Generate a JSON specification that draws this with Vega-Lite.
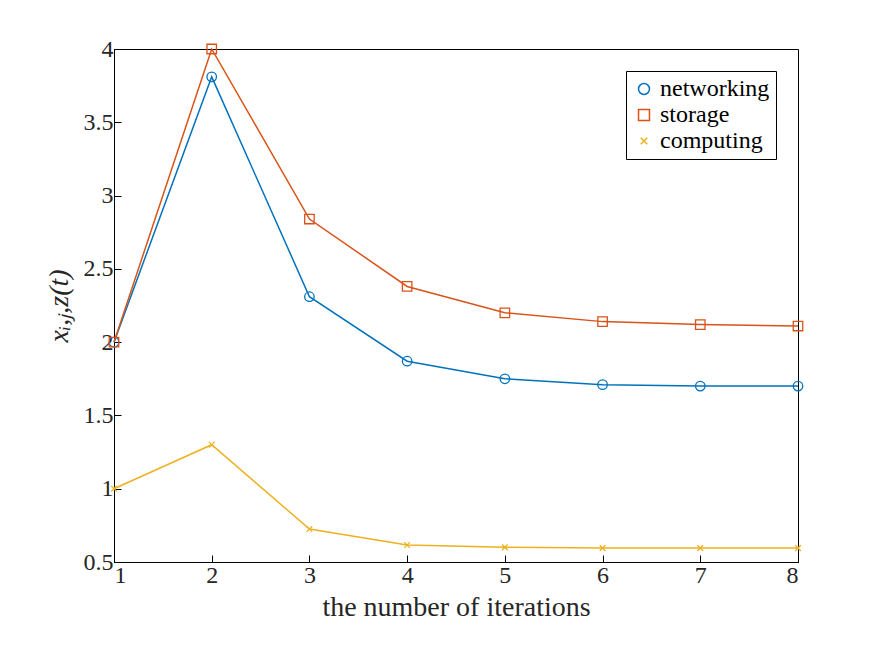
{
  "$schema": "https://vega.github.io/schema/vega-lite/v6.json",
  "autosize": {"type": "none"},
  "padding": {"left": 114, "top": 49, "right": 77, "bottom": 94},
  "width": 684,
  "height": 513,
  "background": "white",
  "config": {
    "font": "Liberation Serif",
    "view": {"stroke": "black", "strokeWidth": 1},
    "axis": {
      "grid": false, "domainColor": "black", "tickColor": "black",
      "tickSize": -7, "labelFontSize": 24, "labelColor": "#262626",
      "titleFontSize": 28, "titleFontWeight": "normal", "titleColor": "#262626",
      "labelFont": "Liberation Serif", "titleFont": "Liberation Serif", "format": "~g"
    },
    "legend": {
      "orient": "top-right", "labelFontSize": 24, "labelFont": "Liberation Serif", "labelColor": "black",
      "strokeColor": "black", "fillColor": "white", "padding": 6, "offset": 22, "symbolSize": 120, "rowPadding": 2,
      "symbolStrokeWidth": 1.5, "symbolFillColor": "transparent"
    }
  },
  "data": {
    "values": [
      {"it": 1, "v": 2.0, "s": "networking"},
      {"it": 2, "v": 3.81, "s": "networking"},
      {"it": 3, "v": 2.31, "s": "networking"},
      {"it": 4, "v": 1.87, "s": "networking"},
      {"it": 5, "v": 1.75, "s": "networking"},
      {"it": 6, "v": 1.71, "s": "networking"},
      {"it": 7, "v": 1.70, "s": "networking"},
      {"it": 8, "v": 1.70, "s": "networking"},
      {"it": 1, "v": 2.0, "s": "storage"},
      {"it": 2, "v": 4.0, "s": "storage"},
      {"it": 3, "v": 2.84, "s": "storage"},
      {"it": 4, "v": 2.38, "s": "storage"},
      {"it": 5, "v": 2.20, "s": "storage"},
      {"it": 6, "v": 2.14, "s": "storage"},
      {"it": 7, "v": 2.12, "s": "storage"},
      {"it": 8, "v": 2.11, "s": "storage"},
      {"it": 1, "v": 1.0, "s": "computing"},
      {"it": 2, "v": 1.30, "s": "computing"},
      {"it": 3, "v": 0.725, "s": "computing"},
      {"it": 4, "v": 0.616, "s": "computing"},
      {"it": 5, "v": 0.60, "s": "computing"},
      {"it": 6, "v": 0.595, "s": "computing"},
      {"it": 7, "v": 0.595, "s": "computing"},
      {"it": 8, "v": 0.595, "s": "computing"}
    ]
  },
  "encoding": {
    "x": {"field": "it", "type": "quantitative", "title": "the number of iterations",
          "scale": {"domain": [1, 8], "nice": false},
          "axis": {"values": [1,2,3,4,5,6,7,8], "labelPadding": 8, "titlePadding": 6}},
    "y": {"field": "v", "type": "quantitative", "title": "xᵢ,ⱼ,z(t)",
          "scale": {"domain": [0.5, 4], "nice": false, "zero": false},
          "axis": {"values": [0.5,1,1.5,2,2.5,3,3.5,4], "labelPadding": 8, "titlePadding": 10, "titleFontStyle": "italic"}},
    "color": {"field": "s", "type": "nominal", "title": null,
              "scale": {"domain": ["networking", "storage", "computing"], "range": ["#0072BD", "#D95319", "#EDB120"]}}
  },
  "layer": [
    {"mark": {"type": "line", "strokeWidth": 1.5}},
    {"mark": {"type": "point", "filled": false, "size": 90, "strokeWidth": 1.3, "opacity": 1},
     "encoding": {
       "shape": {"field": "s", "type": "nominal", "title": null,
                 "scale": {"domain": ["networking", "storage", "computing"], "range": ["circle", "square", "M-0.6,-0.6L0.6,0.6M-0.6,0.6L0.6,-0.6"]}}
     }}
  ]
}
